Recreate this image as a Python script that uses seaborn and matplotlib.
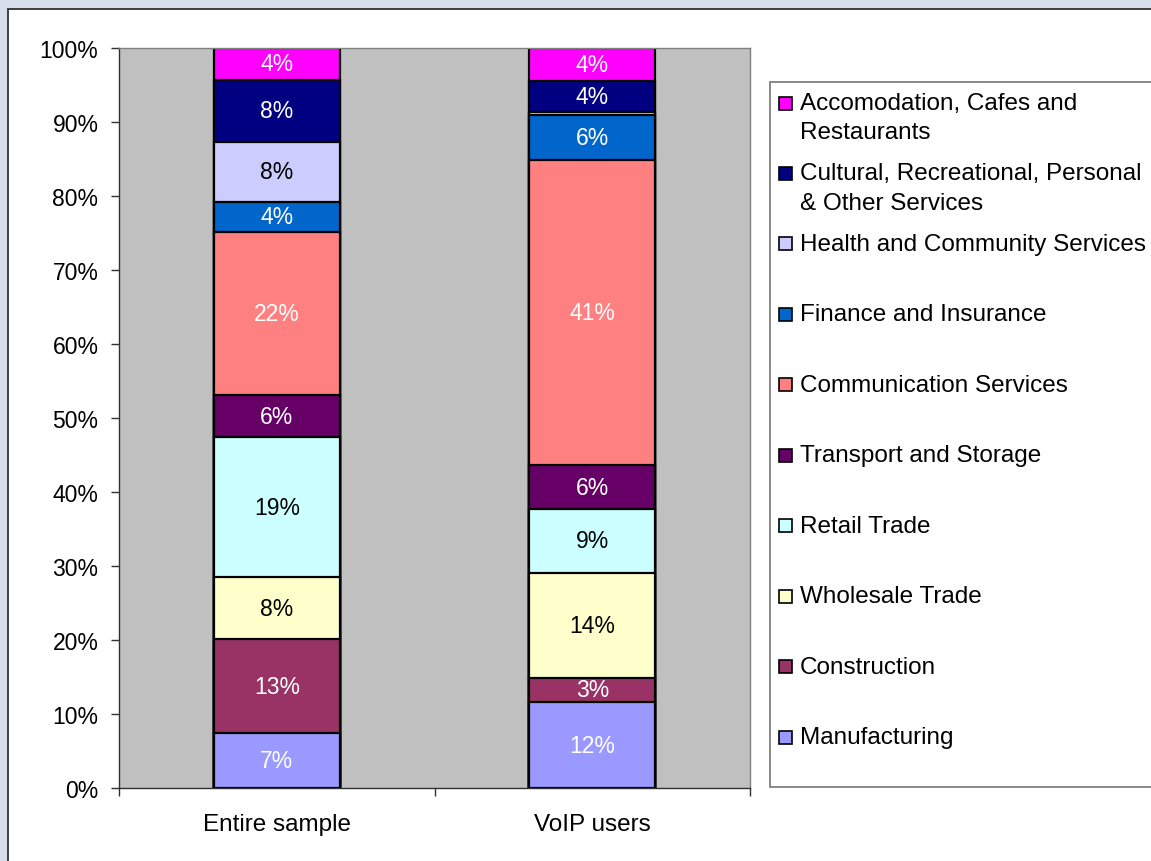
import numpy as np
import pandas as pd
import matplotlib
matplotlib.use("Agg")
import matplotlib.pyplot as plt
import seaborn as sns
from matplotlib.patches import Rectangle

# data (shares in %, bottom to top of each stack)
groups = ["Entire sample", "VoIP users"]
industries = ["Manufacturing", "Construction", "Wholesale Trade", "Retail Trade",
              "Transport and Storage", "Communication Services", "Finance and Insurance",
              "Health and Community Services",
              "Cultural, Recreational, Personal\n& Other Services",
              "Accomodation, Cafes and\nRestaurants"]
entire_sample = [7.4, 12.7, 8.4, 18.9, 5.7, 22.1, 4.0, 8.1, 8.4, 4.3]
voip_users = [11.6, 3.3, 14.2, 8.6, 5.9, 41.3, 6.0, 0.5, 4.2, 4.4]

colors = ["#9999FF", "#993366", "#FFFFCC", "#CCFFFF", "#660066",
          "#FF8080", "#0066CC", "#CCCCFF", "#000080", "#FF00FF"]
text_colors = ["white", "white", "black", "black", "white",
               "white", "white", "black", "white", "white"]

df = pd.DataFrame({
    "group": np.repeat(groups, len(industries)),
    "industry": industries * 2,
    "share": entire_sample + voip_users,
})
df["top"] = df.groupby("group")["share"].cumsum()
df["mid"] = df["top"] - df["share"] / 2

sns.set_style("white")
plt.rcParams["font.family"] = ["Liberation Sans", "DejaVu Sans"]

W, H = 1151, 862
fig = plt.figure(figsize=(W / 100, H / 100), dpi=100, facecolor="#D6DFE9")

# white chart area with border (runs off the right and bottom of the image)
fig.add_artist(Rectangle((8 / W, -0.02), 1.05, 1 - 10 / H + 0.02, transform=fig.transFigure,
                         facecolor="white", edgecolor="#303030", lw=1.3, zorder=-1))

ax = fig.add_axes([119 / W, 1 - 789 / H, (750 - 119) / W, (789 - 49) / H])
ax.set_facecolor("#C0C0C0")

# stacked bars: draw the cumulative heights from the top segment down
for ind, col in zip(industries[::-1], colors[::-1]):
    sub = df[df["industry"] == ind]
    sns.barplot(data=sub, x="group", y="top", order=groups, color=col, saturation=1,
                width=0.4, edgecolor="black", linewidth=1.6, errorbar=None, ax=ax)

tcol = dict(zip(industries, text_colors))
for _, r in df.iterrows():
    if r["share"] < 1:
        continue
    ax.text(groups.index(r["group"]), r["mid"], f"{r['share']:.0f}%", ha="center", va="center",
            fontsize=16.5, color=tcol[r["industry"]])

ax.set_xlim(-0.5, 1.5)
ax.set_ylim(0, 100)
ax.set_yticks(np.arange(0, 101, 10))
ax.set_yticklabels([f"{v}%" for v in range(0, 101, 10)])
ax.set_xticks([0, 1])
ax.set_xticklabels(groups)
ax.set_xticks([-0.5, 0.5, 1.5], minor=True)
ax.set_xlabel("")
ax.set_ylabel("")
ax.tick_params(axis="y", left=True, length=5.8, width=1, direction="out", pad=9, labelsize=16.5,
               color="#303030", labelcolor="black")
ax.tick_params(axis="x", which="major", bottom=True, length=0, pad=18, labelsize=17.5,
               labelcolor="black")
ax.tick_params(axis="x", which="minor", bottom=True, length=5.8, width=1, direction="out",
               color="#303030")
for s in ["top", "right"]:
    ax.spines[s].set_color("#808080")
    ax.spines[s].set_linewidth(1)
for s in ["left", "bottom"]:
    ax.spines[s].set_color("#303030")
    ax.spines[s].set_linewidth(1)

# legend box drawn by hand so the squares sit on the first line of each label
fig.add_artist(Rectangle((770 / W, 1 - 788 / H), 1.0, (788 - 83) / H, transform=fig.transFigure,
                         facecolor="white", edgecolor="#808080", lw=1.3, zorder=1))
pitch = 70.45
for i, (ind, col) in enumerate(zip(industries[::-1], colors[::-1])):
    y0 = 104 + i * pitch
    fig.add_artist(Rectangle((779 / W, 1 - (y0 + 6.5) / H), 13 / W, 13 / H,
                             transform=fig.transFigure, facecolor=col, edgecolor="black",
                             lw=1.2, zorder=2))
    for k, line in enumerate(ind.split("\n")):
        fig.text(800 / W, 1 - (y0 + k * 29.5) / H, line, ha="left", va="center",
                 fontsize=17.5, color="black")

fig.savefig("out.png", dpi=100, facecolor=fig.get_facecolor())
